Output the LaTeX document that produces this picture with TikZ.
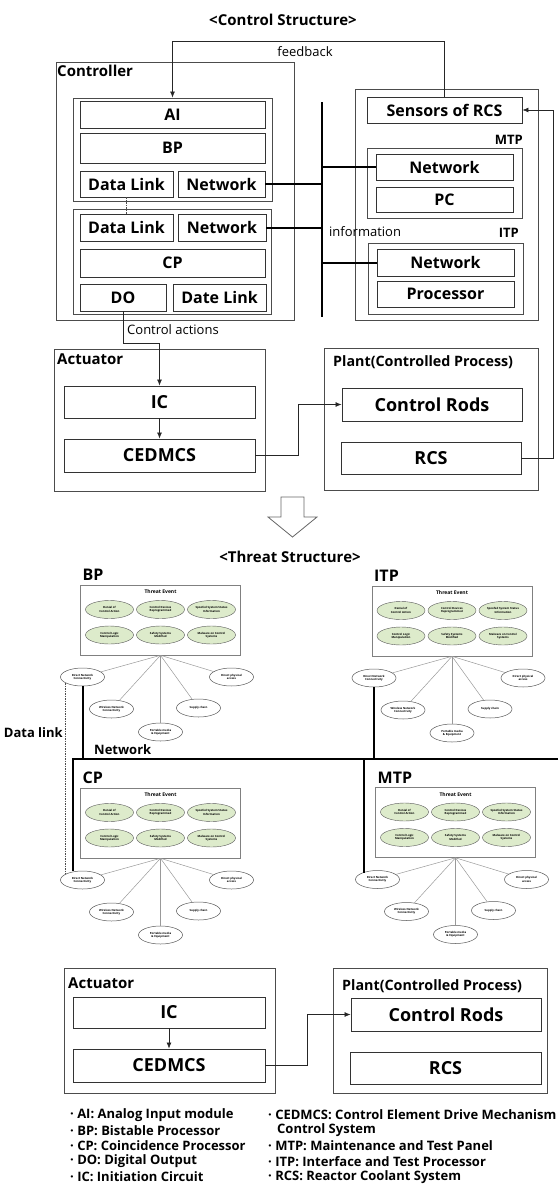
\documentclass[tikz,border=0pt]{standalone}
\usepackage{fontspec}
\setmainfont{Open Sans}
\usetikzlibrary{arrows.meta,shapes.geometric}

\definecolor{eventgreen}{RGB}{221,235,203}

\newcommand{\threatblock}[4]{%
  \begin{scope}[shift={(#3,#4)}]
    \node[tebox] (#1-te) at (0,0) {};
    \node[tetitle] (#1-title) at (0,-28) {Threat Event};
    \node[unitname] (#1-name) at (-78,-45) {#2};
    \node[tevent] (#1-e1) at (-51,-10.5) {Denial of\\Control Action};
    \node[tevent] (#1-e2) at (0,-10.5) {Control Devices\\Reprogrammed};
    \node[tevent] (#1-e3) at (51,-10.5) {Spoofed System Status\\Information};
    \node[tevent] (#1-e4) at (-51,15) {Control Logic\\Manipulation};
    \node[tevent] (#1-e5) at (0,15) {Safety Systems\\Modified};
    \node[tevent] (#1-e6) at (51,15) {Malware on Control\\Systems};
    \node[attack] (#1-dnc) at (-78,57) {Direct Network\\Connectivity};
    \node[attack] (#1-wnc) at (-49,89) {Wireless Network\\Connectivity};
    \node[attack] (#1-pme) at (0,112) {Portable media\\\& Equipment};
    \node[attack] (#1-sc) at (38,88) {Supply chain};
    \node[attack] (#1-dpa) at (71,57) {Direct physical\\access};
    \foreach \v in {dnc,wnc,pme,sc,dpa}
      \draw[fan] (#1-te.south) -- (#1-\v);
  \end{scope}}

\begin{document}
\begin{tikzpicture}[x=1pt, y=-1pt,
  sz/.style 2 args={minimum width=#1pt, minimum height=#2pt},
  cbox/.style={draw=black!80, line width=0.9pt, inner sep=0pt, font=\bfseries\fontsize{16}{18}\selectfont},
  bigbox/.style={cbox, font=\bfseries\fontsize{18}{20}\selectfont},
  cgroup/.style={draw=black!70, line width=0.9pt, inner sep=0pt},
  glabel/.style={font=\bfseries\fontsize{15}{17}\selectfont, inner sep=0pt, anchor=west},
  plabel/.style={glabel, font=\bfseries\fontsize{14.3}{16}\selectfont},
  sublabel/.style={font=\bfseries\fontsize{13}{15}\selectfont, inner sep=0pt, anchor=east},
  plainlabel/.style={font=\fontsize{13}{15}\selectfont, inner sep=0pt},
  heading/.style={font=\bfseries\fontsize{15}{17}\selectfont, inner sep=0pt},
  flow/.style={draw=black!85, line width=0.7pt, -{Latex[length=6pt,width=5pt]}},
  clink/.style={line width=2pt},
  cbus/.style={line width=2pt},
  datalink/.style={draw=black!70, line width=0.8pt, dash pattern=on 1.5pt off 1pt},
  tebox/.style={draw=black!50, line width=0.6pt, sz={160}{70}, inner sep=0pt},
  tetitle/.style={font=\bfseries\fontsize{5}{6}\selectfont, inner sep=0pt},
  tevent/.style={ellipse, draw=black!65, line width=0.4pt, fill=eventgreen, sz={48}{18}, inner sep=0pt, align=center, font=\bfseries\fontsize{2.8}{3.3}\selectfont},
  attack/.style={ellipse, draw=black!65, line width=0.5pt, fill=white, sz={44}{18}, inner sep=0pt, align=center, font=\bfseries\fontsize{2.8}{3.3}\selectfont},
  fan/.style={draw=black!40, line width=0.5pt},
  unitname/.style={font=\bfseries\fontsize{16}{18}\selectfont, inner sep=0pt, anchor=west},
  abbr/.style={font=\bfseries\fontsize{13}{15}\selectfont, inner sep=0pt, anchor=west}]
\useasboundingbox (0,0) rectangle (558,1184);

% control structure
\node[heading] (ctitle) at (283,20) {<Control Structure>};

\node[cgroup, sz={238}{258}] (controller) at (175,191) {};
\node[glabel] (controller-l) at (57,71) {Controller};
\node[cgroup, sz={199}{103}] (bpgroup) at (172.5,149.5) {};
\node[cbox, sz={185}{27}] (ai) at (172.5,114.5) {AI};
\node[cbox, sz={185}{30}] (bp) at (172.5,148) {BP};
\node[cbox, sz={93}{26}] (dl1) at (126.5,184) {Data Link};
\node[cbox, sz={87}{26}] (net1) at (221.5,184) {Network};
\node[cgroup, sz={198}{105}] (cpgroup) at (172,261.5) {};
\node[cbox, sz={93}{27}] (dl2) at (126.5,227.5) {Data Link};
\node[cbox, sz={88}{27}] (net2) at (222,227.5) {Network};
\node[cbox, sz={185}{28}] (cp) at (172.5,263) {CP};
\node[cbox, sz={86}{27}] (do) at (123,297.5) {DO};
\node[cbox, sz={93}{27}] (dl3) at (219.5,297.5) {Date Link};

\node[cgroup, sz={183}{231}] (field) at (446.5,204.5) {};
\node[cbox, sz={155}{26}] (sensors) at (444.5,110) {Sensors of RCS};
\node[cgroup, sz={155}{70}] (mtp) at (444.5,183) {};
\node[sublabel] (mtp-l) at (523,140) {MTP};
\node[cbox, sz={137}{26}] (mtpnet) at (444.5,167) {Network};
\node[cbox, sz={137}{25}] (pc) at (444.5,199.5) {PC};
\node[cgroup, sz={155}{71}] (itp) at (445.5,278.5) {};
\node[sublabel] (itp-l) at (519,233) {ITP};
\node[cbox, sz={137}{27}] (itpnet) at (445.5,262.5) {Network};
\node[cbox, sz={137}{26}] (proc) at (445.5,294) {Processor};

\coordinate (bus-t) at (322,102);
\coordinate (bus-b) at (322,317);
\draw[cbus] (bus-t) -- (bus-b);
\draw[clink] (net1.east) -- (net1.east -| bus-t);
\draw[clink] (net2.east) -- (net2.east -| bus-t);
\draw[clink] (bus-t |- mtpnet.west) -- (mtpnet.west);
\draw[clink] (bus-t |- itpnet.west) -- (itpnet.west);
\draw[datalink] (dl1.south) -- (dl2.north);
\node[plainlabel, anchor=west] (info-l) at (329,232) {information};

\node[cgroup, sz={211}{142}] (actuator) at (159.5,420) {};
\node[glabel] (actuator-l) at (57,359) {Actuator};
\node[bigbox, sz={191}{32}] (ic) at (159.5,402) {IC};
\node[bigbox, sz={191}{33}] (cedmcs) at (159.5,455.5) {CEDMCS};
\node[cgroup, sz={214}{142}] (plant) at (431,419) {};
\node[plabel] (plant-l) at (333,362) {Plant(Controlled Process)};
\node[bigbox, sz={180}{33}] (rods) at (432,404.5) {Control Rods};
\node[bigbox, sz={180}{32}] (rcs) at (431,458) {RCS};

\draw[flow] (sensors.north) -- ++(0,-55) -| (bpgroup.north);
\node[plainlabel] (fb-l) at (305,52) {feedback};
\draw[flow] (do.south) -- ++(0,32) -| (ic.north);
\node[plainlabel, anchor=west] (ca-l) at (127,330) {Control actions};
\draw[flow] (ic) -- (cedmcs);
\draw[flow] (cedmcs.east) -- ++(43,0) |- (rods.west);
\draw[flow] (rcs.east) -- ++(32,0) |- (sensors.east);

\draw[draw=black!60, line width=0.8pt] (281,497) -- (304,497) -- (304,517) -- (317,517)
  -- (292.5,537) -- (268,517) -- (281,517) -- cycle;

% threat structure
\node[heading] (ttitle) at (290,557) {<Threat Structure>};

\threatblock{bp}{BP}{160.5}{620}
\threatblock{itp}{ITP}{452}{621}
\threatblock{cp}{CP}{160.5}{823}
\threatblock{mtp}{MTP}{455.5}{822.5}

\coordinate (netw) at (73,759);
\coordinate (nete) at (558,759);
\coordinate (mtpdrop) at (364,759);
\draw[cbus] (nete) -- (netw) -- (netw |- cp-dnc.north);
\draw[cbus] (bp-dnc.south) -- (bp-dnc.south |- netw);
\draw[cbus] (itp-dnc.south) -- (itp-dnc.south |- netw);
\draw[cbus] (mtpdrop) -- (mtpdrop |- mtp-dnc.160);
\draw[datalink] (bp-dnc.200) -- (bp-dnc.200 |- cp-dnc.160);
\node[glabel, font=\bfseries\fontsize{13}{15}\selectfont] (net-l) at (94,750) {Network};
\node[glabel, anchor=east, font=\bfseries\fontsize{13}{15}\selectfont] (dl-l) at (63,733) {Data link};

\node[cgroup, sz={211}{125}] (actuator2) at (169.5,1030.5) {};
\node[glabel] (actuator2-l) at (68,983) {Actuator};
\node[bigbox, sz={192}{31}] (ic2) at (169,1012.5) {IC};
\node[bigbox, sz={192}{33}] (cedmcs2) at (169,1065.5) {CEDMCS};
\node[cgroup, sz={214}{125}] (plant2) at (440,1030.5) {};
\node[plabel] (plant2-l) at (342,986) {Plant(Controlled Process)};
\node[bigbox, sz={190}{33}] (rods2) at (446,1014.5) {Control Rods};
\node[bigbox, sz={191}{32}] (rcs2) at (445.5,1068) {RCS};
\draw[flow] (ic2) -- (cedmcs2);
\draw[flow] (cedmcs2.east) -- ++(42,0) |- (rods2.west);

% abbreviations
\foreach \t [count=\i] in {AI: Analog Input module, BP: Bistable Processor,
    CP: Coincidence Processor, DO: Digital Output, IC: Initiation Circuit}
  \node[abbr] (abbr-l\i) at (70,{1115+15.5*(\i-1)}) {· \t};
\node[abbr] (abbr-r1) at (268,1115) {· CEDMCS: Control Element Drive Mechanism};
\node[abbr] (abbr-r2) at (277,1130.5) {Control System};
\node[abbr] (abbr-r3) at (268,1146) {· MTP: Maintenance and Test Panel};
\node[abbr] (abbr-r4) at (268,1161.5) {· ITP: Interface and Test Processor};
\node[abbr] (abbr-r5) at (268,1177) {· RCS: Reactor Coolant System};
\end{tikzpicture}
\end{document}
